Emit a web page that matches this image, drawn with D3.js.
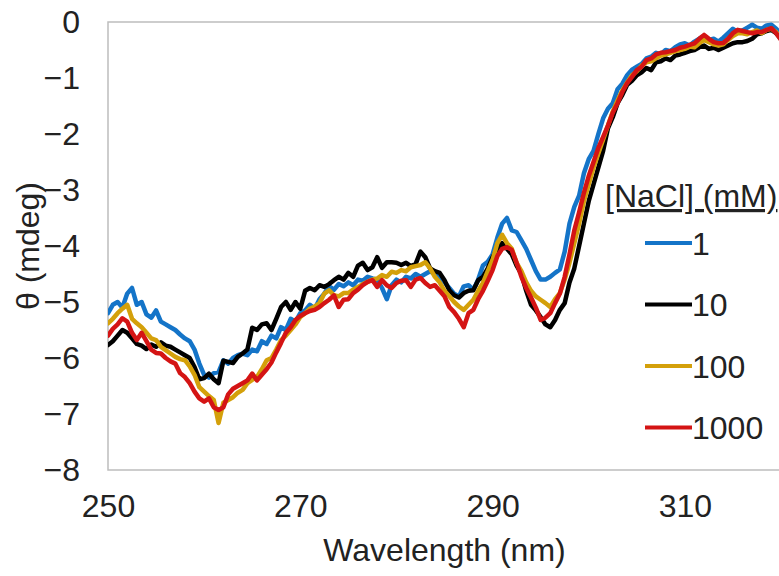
<!DOCTYPE html>
<html>
<head>
<meta charset="utf-8">
<script src="https://cdn.jsdelivr.net/npm/d3@7"></script>
<style>
  body { margin: 0; background: #fff; }
  svg { display: block; }
  text { font-family: "Liberation Sans", Arial, sans-serif; fill: #222; }
</style>
</head>
<body>
<div id="chart"></div>
<script>
// wavelength, nm (reading every 0.5 nm, 250 - 320)
var wavelengths = d3.range(250, 320.25, 0.5);

// CD signal (mdeg) for each NaCl concentration, one row = 5 nm
var nacl1 = [
  -5.2,-5.05,-5.0,-5.1,-4.85,-4.75,-5.05,-5.0,-5.22,-5.28,
  -5.15,-5.35,-5.4,-5.45,-5.5,-5.58,-5.65,-5.7,-5.85,-6.1,
  -6.3,-6.35,-6.27,-6.25,-6.04,-6.1,-6.0,-5.95,-5.92,-5.95,
  -5.85,-5.88,-5.7,-5.75,-5.6,-5.65,-5.45,-5.5,-5.3,-5.35,
  -5.2,-5.15,-5.05,-5.12,-4.95,-4.85,-4.72,-4.78,-4.68,-4.72,
  -4.65,-4.7,-4.6,-4.62,-4.55,-4.58,-4.6,-4.75,-4.95,-4.7,
  -4.6,-4.65,-4.55,-4.58,-4.5,-4.55,-4.5,-4.45,-4.5,-4.55,
  -4.65,-4.75,-4.85,-4.9,-4.72,-4.7,-4.78,-4.6,-4.35,-4.28,
  -4.15,-3.85,-3.6,-3.5,-3.72,-3.75,-3.9,-4.05,-4.25,-4.45,
  -4.6,-4.6,-4.55,-4.48,-4.42,-4.1,-3.6,-3.3,-3.1,-2.7,
  -2.45,-2.3,-2.0,-1.72,-1.55,-1.45,-1.2,-1.1,-0.95,-0.85,
  -0.8,-0.75,-0.65,-0.62,-0.55,-0.58,-0.5,-0.52,-0.45,-0.4,
  -0.38,-0.42,-0.35,-0.3,-0.25,-0.32,-0.3,-0.35,-0.28,-0.2,
  -0.12,-0.18,-0.15,-0.1,-0.05,-0.1,-0.12,-0.06,-0.05,-0.12,
  -0.22];

var nacl10 = [
  -5.77,-5.7,-5.6,-5.5,-5.55,-5.65,-5.75,-5.78,-5.84,-5.76,
  -5.8,-5.72,-5.78,-5.8,-5.85,-5.9,-5.95,-6.0,-6.16,-6.38,
  -6.36,-6.28,-6.38,-6.45,-6.05,-6.07,-6.09,-5.98,-5.92,-5.85,
  -5.46,-5.5,-5.4,-5.38,-5.5,-5.3,-5.09,-5.0,-5.14,-5.0,
  -5.12,-4.8,-4.75,-4.79,-4.7,-4.73,-4.68,-4.61,-4.55,-4.6,
  -4.48,-4.55,-4.35,-4.3,-4.43,-4.38,-4.2,-4.39,-4.29,-4.29,
  -4.3,-4.34,-4.3,-4.36,-4.32,-4.1,-4.2,-4.4,-4.45,-4.48,
  -4.61,-4.79,-4.88,-4.92,-4.84,-4.8,-4.79,-4.61,-4.55,-4.4,
  -4.2,-4.05,-3.95,-4.05,-4.15,-4.35,-4.5,-4.8,-5.05,-5.15,
  -5.27,-5.4,-5.45,-5.32,-5.14,-5.02,-4.65,-4.4,-4.0,-3.6,
  -3.2,-2.9,-2.6,-2.3,-1.9,-1.7,-1.45,-1.3,-1.12,-1.05,
  -0.95,-0.9,-0.82,-0.86,-0.72,-0.7,-0.65,-0.68,-0.6,-0.58,
  -0.55,-0.52,-0.5,-0.45,-0.42,-0.48,-0.46,-0.5,-0.46,-0.42,
  -0.38,-0.36,-0.36,-0.34,-0.3,-0.22,-0.2,-0.16,-0.14,-0.2,
  -0.3];

var nacl100 = [
  -5.38,-5.3,-5.2,-5.12,-5.05,-5.3,-5.38,-5.45,-5.55,-5.65,
  -5.68,-5.8,-5.86,-5.92,-5.98,-6.02,-6.04,-6.15,-6.3,-6.52,
  -6.6,-6.68,-6.75,-7.16,-6.8,-6.75,-6.7,-6.62,-6.57,-6.45,
  -6.39,-6.34,-6.2,-6.04,-6.0,-5.85,-5.68,-5.6,-5.5,-5.4,
  -5.27,-5.2,-5.12,-5.08,-5.02,-4.85,-4.79,-4.88,-4.9,-4.84,
  -4.84,-4.78,-4.73,-4.68,-4.64,-4.6,-4.58,-4.52,-4.55,-4.46,
  -4.48,-4.43,-4.45,-4.38,-4.36,-4.34,-4.29,-4.4,-4.55,-4.65,
  -4.8,-4.9,-5.0,-5.08,-5.14,-5.05,-4.96,-4.8,-4.66,-4.45,
  -4.25,-3.95,-3.8,-3.95,-4.05,-4.3,-4.45,-4.65,-4.8,-4.9,
  -4.96,-5.02,-5.09,-4.95,-4.84,-4.6,-4.3,-3.95,-3.6,-3.2,
  -2.9,-2.6,-2.35,-2.1,-1.85,-1.6,-1.4,-1.22,-1.08,-0.95,
  -0.88,-0.78,-0.72,-0.7,-0.65,-0.6,-0.58,-0.55,-0.52,-0.5,
  -0.48,-0.44,-0.45,-0.38,-0.32,-0.36,-0.4,-0.42,-0.4,-0.32,
  -0.25,-0.2,-0.2,-0.22,-0.18,-0.15,-0.2,-0.14,-0.12,-0.18,
  -0.3];

var nacl1000 = [
  -5.6,-5.48,-5.4,-5.29,-5.35,-5.55,-5.68,-5.55,-5.7,-5.85,
  -5.91,-5.92,-6.0,-6.06,-6.1,-6.27,-6.34,-6.45,-6.6,-6.72,
  -6.78,-6.72,-6.88,-6.93,-6.88,-6.65,-6.55,-6.5,-6.45,-6.4,
  -6.28,-6.4,-6.3,-6.2,-6.08,-5.9,-5.73,-5.55,-5.45,-5.32,
  -5.25,-5.2,-5.16,-5.14,-5.09,-5.02,-4.96,-4.88,-5.09,-4.96,
  -4.95,-4.84,-4.78,-4.7,-4.64,-4.61,-4.73,-4.61,-4.7,-4.75,
  -4.66,-4.62,-4.61,-4.73,-4.6,-4.57,-4.66,-4.73,-4.7,-4.8,
  -4.9,-5.09,-5.18,-5.3,-5.45,-5.2,-5.14,-4.95,-4.8,-4.62,
  -4.43,-4.18,-4.05,-4.02,-4.07,-4.3,-4.55,-4.75,-4.92,-5.1,
  -5.32,-5.28,-5.2,-5.02,-4.85,-4.55,-4.15,-3.72,-3.4,-3.05,
  -2.75,-2.5,-2.25,-2.05,-1.85,-1.62,-1.45,-1.25,-1.09,-0.98,
  -0.86,-0.8,-0.68,-0.65,-0.58,-0.55,-0.54,-0.52,-0.5,-0.46,
  -0.44,-0.41,-0.38,-0.3,-0.23,-0.3,-0.36,-0.38,-0.375,-0.3,
  -0.2,-0.14,-0.16,-0.18,-0.2,-0.18,-0.18,-0.14,-0.11,-0.2,
  -0.32];

var seriesNames = ["1", "10", "100", "1000"];
var seriesColors = ["#1474c8", "#000000", "#d4a00a", "#d41414"];
var xTicks = [250, 270, 290, 310];
var yTicks = [0, -1, -2, -3, -4, -5, -6, -7, -8];

var width = 779, height = 576;
var margin = {top: 22, right: -2, bottom: 106, left: 108};

var x = d3.scaleLinear().domain([250, 320]).range([margin.left, width - margin.right]);
var y = d3.scaleLinear().domain([-8, 0]).range([height - margin.bottom, margin.top]);

var svg = d3.select("#chart").append("svg")
  .attr("width", width)
  .attr("height", height);

svg.append("defs").append("clipPath").attr("id", "plotclip")
  .append("rect")
  .attr("x", x(250)).attr("y", y(0) - 3)
  .attr("width", x(320) - x(250)).attr("height", y(-8) - y(0) + 3);

// plot frame
svg.append("rect")
  .attr("x", x(250)).attr("y", y(0))
  .attr("width", x(320) - x(250)).attr("height", y(-8) - y(0))
  .style("fill", "none")
  .style("stroke", "#bdbdbd")
  .style("stroke-width", 1.5);

// axes (labels only, no tick marks)
var xAxis = d3.axisBottom(x).tickValues(xTicks).tickSize(0).tickPadding(24);
var gx = svg.append("g").attr("transform", "translate(0," + y(-8) + ")").call(xAxis);
gx.select(".domain").remove();
gx.selectAll("text").style("font-size", "32px").style("font-family", "'Liberation Sans', Arial, sans-serif").style("fill", "#222");

var yAxis = d3.axisLeft(y).tickValues(yTicks).tickSize(0).tickPadding(28);
var gy = svg.append("g").attr("transform", "translate(" + x(250) + ",0)").call(yAxis);
gy.select(".domain").remove();
gy.selectAll("text").style("font-size", "32px").style("font-family", "'Liberation Sans', Arial, sans-serif").style("fill", "#222");

// axis titles
svg.append("text")
  .attr("x", (x(250) + x(320)) / 2)
  .attr("y", 561)
  .attr("text-anchor", "middle")
  .style("font-size", "32px")
  .text("Wavelength (nm)");

svg.append("text")
  .attr("transform", "translate(39," + (y(0) + y(-8)) / 2 + ") rotate(-90)")
  .attr("text-anchor", "middle")
  .style("font-size", "32px")
  .text("θ (mdeg)");

// spectra
var allSeries = [nacl1, nacl10, nacl100, nacl1000];
var line = d3.line()
  .x(function(d, i) { return x(wavelengths[i]); })
  .y(function(d) { return y(d); });

svg.append("g").attr("clip-path", "url(#plotclip)")
  .selectAll("path")
  .data(allSeries)
  .enter().append("path")
  .attr("d", line)
  .style("fill", "none")
  .style("stroke", function(d, i) { return seriesColors[i]; })
  .style("stroke-width", 4.5)
  .style("stroke-linejoin", "round")
  .style("stroke-linecap", "round");

// legend
var legend = svg.append("g");
legend.append("text")
  .attr("x", 605).attr("y", 207)
  .style("font-size", "32px")
  .style("text-decoration", "underline")
  .text("[NaCl] (mM)");

var items = legend.selectAll(".item")
  .data(seriesNames)
  .enter().append("g")
  .attr("class", "item")
  .attr("transform", function(d, i) { return "translate(0," + (243 + i * 61.5) + ")"; });

items.append("line")
  .attr("x1", 645).attr("x2", 692)
  .attr("y1", 0).attr("y2", 0)
  .style("stroke", function(d, i) { return seriesColors[i]; })
  .style("stroke-width", 4);

items.append("text")
  .attr("x", 692).attr("y", 0)
  .attr("dy", "0.36em")
  .style("font-size", "32px")
  .text(function(d) { return d; });
</script>
</body>
</html>
